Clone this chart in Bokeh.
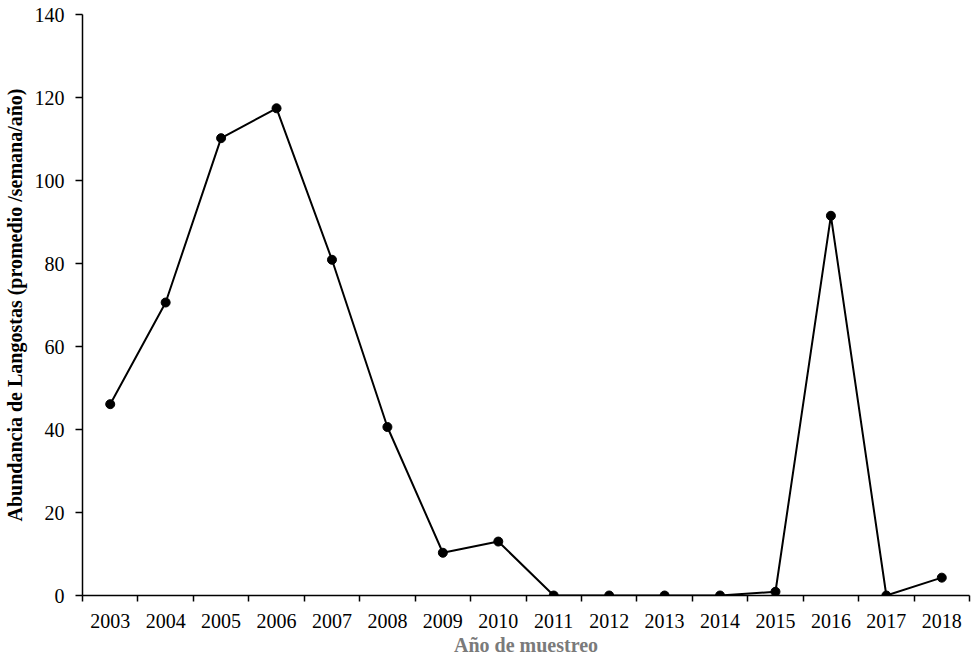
from bokeh.plotting import figure
from bokeh.models import FixedTicker, Range1d
from bokeh.embed import file_html
from bokeh.resources import INLINE

years = ["2003", "2004", "2005", "2006", "2007", "2008", "2009", "2010",
         "2011", "2012", "2013", "2014", "2015", "2016", "2017", "2018"]
abundance = [46.1, 70.6, 110.2, 117.4, 80.9, 40.6, 10.3, 13.0,
             0.0, 0.0, 0.0, 0.0, 0.9, 91.5, 0.0, 4.3]
y_ticks = [0, 20, 40, 60, 80, 100, 120, 140]

xpos = list(range(1, len(years) + 1))

p = figure(width=972, height=658, output_backend="svg", toolbar_location=None,
           x_range=Range1d(0.5, len(years) + 0.5), y_range=Range1d(0, 140))
p.min_border_left = 80
p.min_border_top = 14
p.min_border_right = 3
p.min_border_bottom = 61

p.line(xpos, abundance, line_color="black", line_width=2)
p.scatter(xpos, abundance, size=9, fill_color="black", line_color="black")

p.grid.visible = False
p.outline_line_color = None

font = "Liberation Serif"

xa = p.xaxis[0]
xa.ticker = FixedTicker(ticks=xpos, minor_ticks=[x - 0.5 for x in xpos] + [len(years) + 0.5])
xa.major_label_overrides = {x: y for x, y in zip(xpos, years)}
xa.major_tick_out = 0
xa.major_tick_in = 0
xa.minor_tick_out = 6
xa.minor_tick_in = 0
xa.minor_tick_line_color = "black"
xa.minor_tick_line_width = 1.5
xa.axis_line_width = 1.5
xa.axis_line_color = "black"
xa.major_label_text_font = font
xa.major_label_text_font_size = "20px"
xa.major_label_text_color = "black"
xa.major_label_standoff = 12
xa.axis_label = "Año de muestreo"
xa.axis_label_text_font = font
xa.axis_label_text_font_style = "bold"
xa.axis_label_text_font_size = "20px"
xa.axis_label_text_color = "#7a7a7a"
xa.axis_label_standoff = 3

ya = p.yaxis[0]
ya.ticker = FixedTicker(ticks=y_ticks)
ya.minor_tick_line_color = None
ya.major_tick_out = 7
ya.major_tick_in = 0
ya.major_tick_line_width = 1.5
ya.axis_line_width = 1.5
ya.axis_line_color = "black"
ya.major_label_text_font = font
ya.major_label_text_font_size = "20px"
ya.major_label_text_color = "black"
ya.major_label_standoff = 11
ya.axis_label = "Abundancia de Langostas (promedio /semana/año)"
ya.axis_label_text_font = font
ya.axis_label_text_font_style = "bold"
ya.axis_label_text_font_size = "20px"
ya.axis_label_text_color = "black"
ya.axis_label_standoff = 6

open("out.html", "w").write(file_html(p, INLINE))
